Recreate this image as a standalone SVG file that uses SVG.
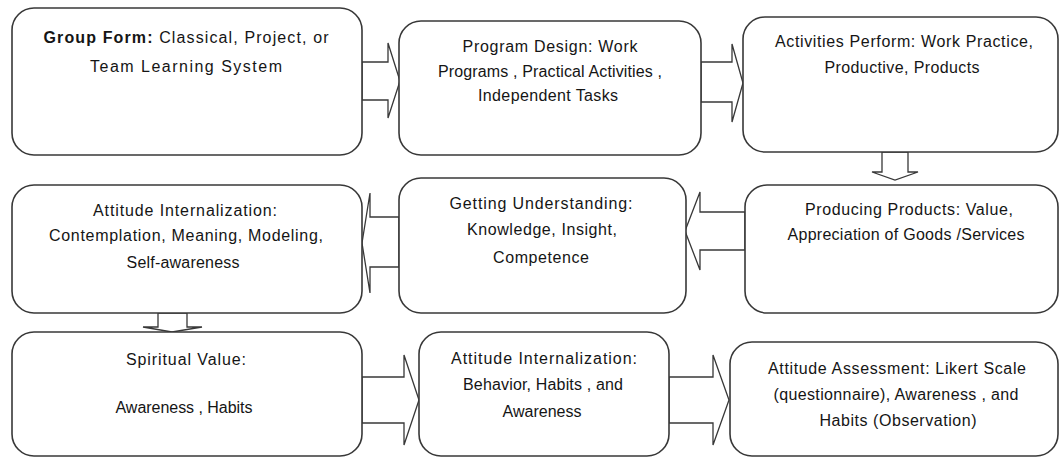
<svg xmlns="http://www.w3.org/2000/svg" width="1061" height="459" viewBox="0 0 1061 459">
  <style>
    .box { fill: #ffffff; stroke: #383838; stroke-width: 1.6; }
    .arrow { fill: #ffffff; stroke: #383838; stroke-width: 1.3; stroke-linejoin: miter; }
    .t { font-family: "Liberation Sans", Arial, sans-serif; font-size: 16px; fill: #151515; text-anchor: middle; }
    .b { font-weight: bold; }
  </style>
  <rect width="1061" height="459" fill="#ffffff"/>

  <!-- block arrows between the steps -->
  <g id="connectors">
    <polygon class="arrow" points="362,62 388,62 388,43 400,81 388,118 388,100 362,100"/>
    <polygon class="arrow" points="701,62 732,62 732,44 743,83 732,122 732,102 701,102"/>
    <polygon class="arrow" points="882,152 882,172 872,172 895,180 918,172 908,172 908,152"/>
    <polygon class="arrow" points="745,212 700,212 700,192 685,231 700,270 700,250 745,250"/>
    <polygon class="arrow" points="399,217 370,217 370,193 362,243 370,293 370,267 399,267"/>
    <polygon class="arrow" points="158,313 158,327 143,327 172,332 202,327 187,327 187,313"/>
    <polygon class="arrow" points="362,377 404,377 404,355 419,400 404,445 404,423 362,423"/>
    <polygon class="arrow" points="669,377 713,377 713,355 729,400 713,445 713,423 669,423"/>
  </g>

  <g id="group-form">
    <rect class="box" x="12" y="8" width="350" height="147" rx="22"/>
    <text class="t" x="186" y="43" textLength="285"><tspan class="b">Group Form:</tspan> Classical, Project, or</text>
    <text class="t" x="186" y="72" textLength="192">Team Learning System</text>
  </g>

  <g id="program-design">
    <rect class="box" x="399" y="21" width="302" height="134" rx="22"/>
    <text class="t" x="550" y="52" textLength="175">Program Design: Work</text>
    <text class="t" x="550" y="77" textLength="224">Programs , Practical Activities ,</text>
    <text class="t" x="548" y="101" textLength="140">Independent Tasks</text>
  </g>

  <g id="activities-perform">
    <rect class="box" x="743" y="17" width="315" height="135" rx="22"/>
    <text class="t" x="904" y="47" textLength="258">Activities Perform: Work Practice,</text>
    <text class="t" x="902" y="73" textLength="155">Productive, Products</text>
  </g>

  <g id="producing-products">
    <rect class="box" x="745" y="185" width="313" height="128" rx="22"/>
    <text class="t" x="909" y="215" textLength="208">Producing Products: Value,</text>
    <text class="t" x="906" y="240" textLength="237">Appreciation of Goods /Services</text>
  </g>

  <g id="getting-understanding">
    <rect class="box" x="399" y="178" width="287" height="135" rx="22"/>
    <text class="t" x="541" y="209" textLength="183">Getting Understanding:</text>
    <text class="t" x="542" y="235" textLength="150">Knowledge, Insight,</text>
    <text class="t" x="541" y="263" textLength="96">Competence</text>
  </g>

  <g id="attitude-internalization-1">
    <rect class="box" x="12" y="185" width="350" height="128" rx="22"/>
    <text class="t" x="185" y="216" textLength="184">Attitude Internalization:</text>
    <text class="t" x="186" y="241" textLength="274">Contemplation, Meaning, Modeling,</text>
    <text class="t" x="183" y="268" textLength="113">Self-awareness</text>
  </g>

  <g id="spiritual-value">
    <rect class="box" x="12" y="332" width="350" height="124" rx="22"/>
    <text class="t" x="186" y="365" textLength="120">Spiritual Value:</text>
    <text class="t" x="184" y="413" textLength="137">Awareness , Habits</text>
  </g>

  <g id="attitude-internalization-2">
    <rect class="box" x="419" y="332" width="250" height="124" rx="22"/>
    <text class="t" x="544" y="364" textLength="186">Attitude Internalization:</text>
    <text class="t" x="543" y="390" textLength="160">Behavior, Habits , and</text>
    <text class="t" x="542" y="417" textLength="79">Awareness</text>
  </g>

  <g id="attitude-assessment">
    <rect class="box" x="730" y="342" width="328" height="114" rx="22"/>
    <text class="t" x="897" y="374" textLength="258">Attitude Assessment: Likert Scale</text>
    <text class="t" x="896" y="400" textLength="245">(questionnaire), Awareness , and</text>
    <text class="t" x="898" y="426" textLength="157">Habits (Observation)</text>
  </g>
</svg>
